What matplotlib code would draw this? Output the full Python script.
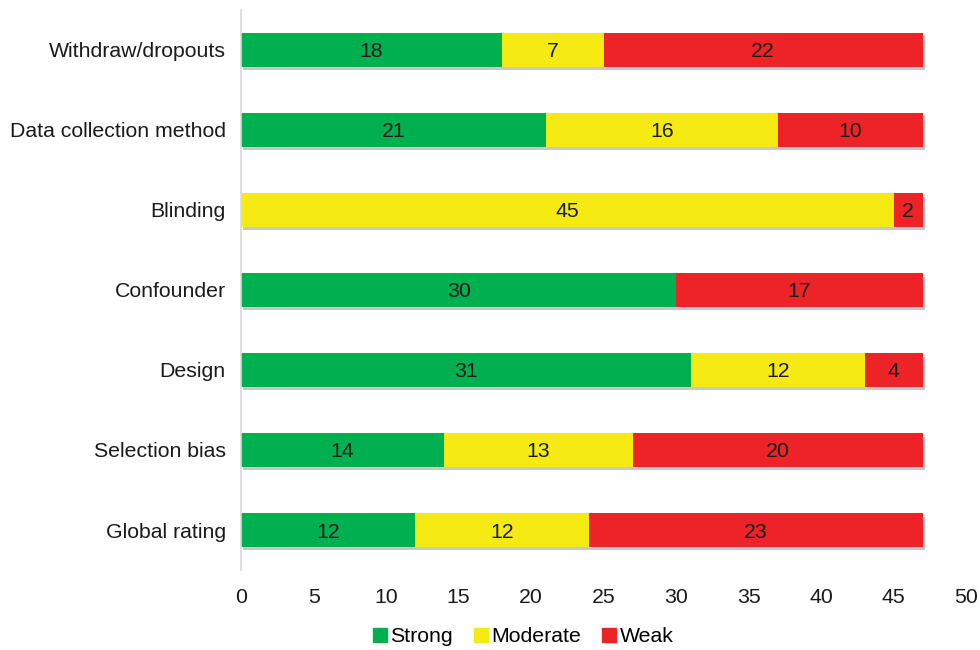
import matplotlib
matplotlib.use("Agg")
import matplotlib.pyplot as plt
import matplotlib.patheffects as pe
from matplotlib.lines import Line2D
import numpy as np

plt.rcParams['font.family'] = ['Liberation Sans', 'DejaVu Sans']

categories = ["Withdraw/dropouts", "Data collection method", "Blinding",
              "Confounder", "Design", "Selection bias", "Global rating"]
strong = [18, 21, 0, 30, 31, 14, 12]
moderate = [7, 16, 45, 0, 12, 13, 12]
weak = [22, 10, 2, 17, 4, 20, 23]
series_names = ["Strong", "Moderate", "Weak"]
colors = ["#00B050", "#F5EB12", "#EE2328"]
x_ticks = [0, 5, 10, 15, 20, 25, 30, 35, 40, 45, 50]

FS = 15.3
fig = plt.figure(figsize=(9.8, 6.5), dpi=100)
ax = fig.add_axes([0.246, 0.123, 0.740, 0.862])

y = np.arange(len(categories))[::-1]
left = np.zeros(len(categories))
shadow = [pe.SimplePatchShadow(offset=(1.5, -2.5), shadow_rgbFace="#909090", alpha=0.5), pe.Normal()]
for vals, name, col in zip([strong, moderate, weak], series_names, colors):
    vals = np.array(vals, dtype=float)
    bars = ax.barh(y, vals, left=left, height=0.42, color=col, label=name, zorder=2)
    for b, v, l, yy in zip(bars, vals, left, y):
        b.set_path_effects(shadow)
        if v > 0:
            ax.text(l + v / 2, yy, f"{int(v)}", ha="center", va="center_baseline",
                    fontsize=FS, color="#1a1a1a", zorder=3)
    left += vals

ax.set_xlim(0, 50)
ax.set_ylim(-0.5, 6.5)
ax.set_yticks(y)
ax.set_yticklabels(categories, fontsize=FS, color="#1a1a1a")
ax.set_xticks(x_ticks)
ax.set_xticklabels([str(t) for t in x_ticks], fontsize=FS, color="#1a1a1a")
ax.tick_params(axis="both", length=0)
ax.tick_params(axis="y", pad=11)
ax.tick_params(axis="x", pad=13)
for s in ["top", "right", "bottom"]:
    ax.spines[s].set_visible(False)
ax.spines["left"].set_color("#D9D9D9")
ax.spines["left"].set_linewidth(1.2)

handles = [Line2D([0], [0], marker="s", linestyle="", markersize=9.5,
                  markerfacecolor=c, markeredgecolor=c) for c in colors]
fig.legend(handles, series_names, loc="center", bbox_to_anchor=(0.532, 0.02),
           ncol=3, frameon=False, fontsize=FS, handletextpad=0.0,
           columnspacing=0.8, handlelength=1.0)

fig.savefig("out.png", dpi=100)
